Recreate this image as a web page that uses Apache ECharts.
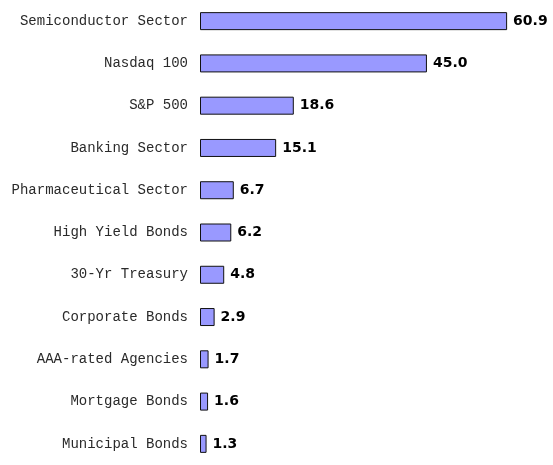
<!DOCTYPE html>
<html>
<head>
<meta charset="utf-8">
<script src="https://cdn.jsdelivr.net/npm/echarts@6/dist/echarts.min.js"></script>
<style>
  html, body { margin: 0; padding: 0; background: #fff; }
</style>
</head>
<body>
<div id="chart" style="width:553px;height:465px;"></div>
<script>
const categories = ['Semiconductor Sector', 'Nasdaq 100', 'S&P 500', 'Banking Sector', 'Pharmaceutical Sector',
    'High Yield Bonds', '30-Yr Treasury', 'Corporate Bonds', 'AAA-rated Agencies', 'Mortgage Bonds', 'Municipal Bonds'];
const returns = [60.9, 45.0, 18.6, 15.1, 6.7, 6.2, 4.8, 2.9, 1.7, 1.6, 1.3];

let chart = echarts.init(document.getElementById('chart'));
chart.setOption({
    animation: false,
    grid: {
        top: -2,
        bottom: -10,
        left: 200,
        right: 0
    },
    xAxis: {
        type: 'value',
        min: 0,
        max: 70,
        show: false
    },
    yAxis: {
        type: 'category',
        data: categories,
        inverse: true,
        axisLine: { show: false },
        axisTick: { show: false },
        axisLabel: {
            margin: 12,
            color: '#2a2a2a',
            fontFamily: 'Liberation Mono',
            fontSize: 14
        }
    },
    series: [{
        type: 'bar',
        data: returns,
        barWidth: 18,
        itemStyle: {
            color: '#9999ff',
            borderColor: '#111',
            borderWidth: 1
        },
        label: {
            show: true,
            position: 'right',
            distance: 6,
            color: '#000',
            fontFamily: 'DejaVu Sans',
            fontWeight: 'bold',
            fontSize: 14,
            formatter: p => p.value.toFixed(1)
        }
    }]
});
</script>
</body>
</html>
